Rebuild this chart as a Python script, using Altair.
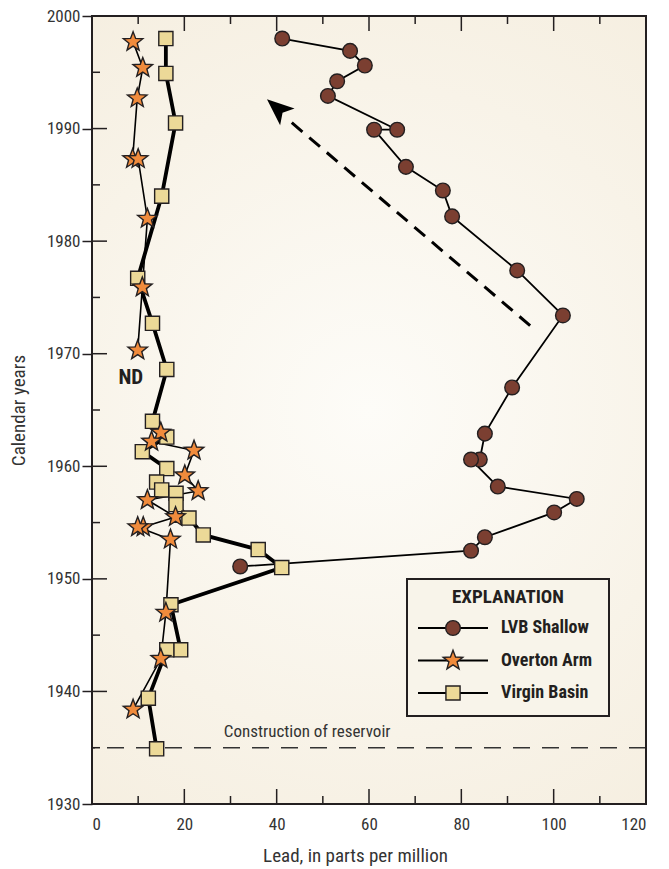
import math
import altair as alt
import pandas as pd

# ---------------- data ----------------
series_names = ["LVB Shallow", "Overton Arm", "Virgin Basin"]

lvb_lead = [41.2, 55.9, 59.1, 53.1, 51.1, 66.1, 61.1, 68.0, 76.0, 78.0, 92.1, 102.0,
            91.0, 85.1, 84.0, 82.1, 87.9, 105.0, 100.1, 85.1, 82.1, 32.1]
lvb_year = [1998.0, 1996.9, 1995.6, 1994.2, 1992.9, 1989.9, 1989.9, 1986.6, 1984.5, 1982.2, 1977.4, 1973.4,
            1967.0, 1962.9, 1960.6, 1960.6, 1958.2, 1957.1, 1955.9, 1953.7, 1952.5, 1951.1]

overton_a_lead = [8.9, 11.0, 9.8, 8.8, 10.0, 12.0, 10.9, 9.9]
overton_a_year = [1997.7, 1995.4, 1992.7, 1987.3, 1987.3, 1982.0, 1975.9, 1970.3]
overton_b_lead = [14.9, 12.9, 22.1, 20.1, 23.0, 12.0, 18.1, 11.1, 9.9, 17.0, 16.0, 14.9, 8.9]
overton_b_year = [1963.0, 1962.2, 1961.4, 1959.2, 1957.8, 1957.0, 1955.5, 1954.6, 1954.6, 1953.5,
                  1947.0, 1942.9, 1938.4]

virgin_lead = [16.0, 16.0, 18.1, 15.1, 9.9, 13.1, 16.2, 13.1, 16.2, 10.9, 16.2, 14.0, 15.1, 18.2,
               18.2, 21.0, 24.1, 36.0, 41.1, 17.1, 19.2, 16.2, 12.2, 14.0]
virgin_year = [1998.0, 1994.9, 1990.5, 1984.0, 1976.7, 1972.7, 1968.6, 1964.0, 1962.6, 1961.3,
               1959.8, 1958.6, 1957.9, 1957.6, 1956.6, 1955.4, 1953.9, 1952.6, 1951.0, 1947.7,
               1943.7, 1943.7, 1939.4, 1934.9]

x_major = [0, 20, 40, 60, 80, 100, 120]
x_minor = [10, 30, 50, 70, 90, 110]
y_major = [1930, 1940, 1950, 1960, 1970, 1980, 1990, 2000]
y_minor = [1935, 1945, 1955, 1965, 1975, 1985, 1995]

reservoir_year = 1935
reservoir_label = "Construction of reservoir"
reservoir_label_pos = (46.6, 1936.4)
nd_label = "ND"
nd_pos = (8.4, 1967.8)
arrow_tail = (94.9, 1972.5)
arrow_base = (41.9, 1991.0)
arrow_tip = (37.9, 1992.6)

# ---------------- style ----------------
W, H = 554, 788
FONT = "Roboto Condensed"
INK = "#231f20"


def star_path(r_in=0.42):
    pts = []
    for k in range(10):
        r = 1.0 if k % 2 == 0 else r_in
        a = math.radians(-90 + 36 * k)
        pts.append(f"{r * math.cos(a):.3f},{r * math.sin(a):.3f}")
    return "M" + " L".join(pts) + " Z"


STAR = star_path()
fills = {"LVB Shallow": "#7b3f31", "Overton Arm": "#f08b3c", "Virgin Basin": "#ecd998"}
shapes = {"LVB Shallow": "circle", "Overton Arm": STAR, "Virgin Basin": "square"}
sizes = {"LVB Shallow": 215, "Overton Arm": 420, "Virgin Basin": 200}
line_w = {"LVB Shallow": 1.8, "Overton Arm": 1.6, "Virgin Basin": 3.8}

rows = []
for i, (l, y) in enumerate(zip(lvb_lead, lvb_year)):
    rows.append({"series": "LVB Shallow", "lead": l, "year": y, "seq": i, "seg": "L"})
for i, (l, y) in enumerate(zip(overton_a_lead, overton_a_year)):
    rows.append({"series": "Overton Arm", "lead": l, "year": y, "seq": i, "seg": "OA"})
for i, (l, y) in enumerate(zip(overton_b_lead, overton_b_year)):
    rows.append({"series": "Overton Arm", "lead": l, "year": y, "seq": 100 + i, "seg": "OB"})
for i, (l, y) in enumerate(zip(virgin_lead, virgin_year)):
    rows.append({"series": "Virgin Basin", "lead": l, "year": y, "seq": i, "seg": "V"})
df = pd.DataFrame(rows)

xscale = alt.Scale(domain=[0, 120], nice=False, zero=False)
yscale = alt.Scale(domain=[1930, 2000], nice=False, zero=False)

xaxis = alt.Axis(values=x_major, ticks=False, domain=False, grid=False,
                 labelFont=FONT, labelFontSize=17, labelColor="#333333", labelPadding=12,
                 title="Lead, in parts per million", titleFont=FONT, titleFontSize=19,
                 titleFontWeight="normal", titleColor="#333333",
                 titleX=263, titleY=57, titleAnchor="middle", titleBaseline="alphabetic")
yaxis = alt.Axis(values=y_major, format="d", tickSize=10, tickWidth=1.5, tickColor=INK,
                 domain=False, grid=False,
                 labelFont=FONT, labelFontSize=17, labelColor="#333333", labelPadding=2,
                 title="Calendar years", titleFont=FONT, titleFontSize=19,
                 titleFontWeight="normal", titleColor="#333333",
                 titleX=-74, titleY=394, titleAnchor="middle", titleBaseline="middle", titleAngle=-90)


def X(field):
    return alt.X(f"{field}:Q", scale=xscale, axis=xaxis)


def Y(field):
    return alt.Y(f"{field}:Q", scale=yscale, axis=yaxis)


one = pd.DataFrame({"k": [0]})

bg = alt.Chart(one).mark_rect(
    color=alt.RadialGradient(
        gradient="radial", x1=0.5, y1=0.5, x2=0.5, y2=0.5, r1=0, r2=0.75,
        stops=[alt.GradientStop(color="#fdfcf8", offset=0),
               alt.GradientStop(color="#f8f3e8", offset=0.55),
               alt.GradientStop(color="#f4ecdc", offset=1)])
).encode(x=alt.value(0), x2=alt.value(W), y=alt.value(0), y2=alt.value(H))

res = alt.Chart(pd.DataFrame({"year": [reservoir_year]})).mark_rule(
    color="#333333", strokeWidth=1.6, strokeDash=[17, 12]
).encode(y=Y("year"))

res_text = alt.Chart(pd.DataFrame({"lead": [reservoir_label_pos[0]], "year": [reservoir_label_pos[1]],
                                   "t": [reservoir_label]})).mark_text(
    font=FONT, fontSize=17, color="#333333", align="center", baseline="middle"
).encode(x=X("lead"), y=Y("year"), text="t:N")

nd_text = alt.Chart(pd.DataFrame({"lead": [nd_pos[0]], "year": [nd_pos[1]], "t": [nd_label]})).mark_text(
    font=FONT, fontSize=21, fontWeight="bold", color=INK, align="center", baseline="middle"
).encode(x=X("lead"), y=Y("year"), text="t:N")

arrow_line = alt.Chart(pd.DataFrame({"lead": [arrow_tail[0]], "year": [arrow_tail[1]],
                                     "lead2": [arrow_base[0]], "year2": [arrow_base[1]]})).mark_rule(
    color="black", strokeWidth=3, strokeDash=[14, 9]
).encode(x=X("lead"), y=Y("year"), x2="lead2:Q", y2="year2:Q")

px_x = W / 120.0
px_y = H / 70.0
dx = (arrow_tip[0] - arrow_tail[0]) * px_x
dy = -(arrow_tip[1] - arrow_tail[1]) * px_y
ang = math.degrees(math.atan2(dx, -dy)) % 360
arrow_head = alt.Chart(pd.DataFrame({"lead": [arrow_tip[0]], "year": [arrow_tip[1]]})).mark_point(
    shape="M0,0 L0.7,1.7 L0,1.3 L-0.7,1.7 Z", size=1000, filled=True, color="black",
    opacity=1, angle=ang
).encode(x=X("lead"), y=Y("year"))

line_layers = []
for s in ["Virgin Basin", "Overton Arm", "LVB Shallow"]:
    line_layers.append(
        alt.Chart(df).transform_filter(alt.datum.series == s).mark_line(
            color="black", strokeWidth=line_w[s]
        ).encode(x=X("lead"), y=Y("year"), detail="seg:N", order="seq:Q")
    )

point_layers = []
for s in ["Virgin Basin", "Overton Arm", "LVB Shallow"]:
    point_layers.append(
        alt.Chart(df).transform_filter(alt.datum.series == s).mark_point(
            shape=shapes[s], size=sizes[s], filled=True, fill=fills[s], stroke=INK,
            strokeWidth=1.4, opacity=1
        ).encode(x=X("lead"), y=Y("year"))
    )


def tick_layer(vals, axis, y0, y1):
    d = pd.DataFrame({"v": vals})
    if axis == "x":
        return alt.Chart(d).mark_rule(color=INK, strokeWidth=1.5).encode(
            x=X("v"), y=alt.value(y0), y2=alt.value(y1))
    return alt.Chart(d).mark_rule(color=INK, strokeWidth=1.5).encode(
        y=Y("v"), x=alt.value(y0), x2=alt.value(y1))


ticks = [
    tick_layer(x_major, "x", H, H - 15), tick_layer(x_minor, "x", H, H - 8),
    tick_layer(x_major, "x", 0, 15), tick_layer(x_minor, "x", 0, 8),
    tick_layer(y_major, "y", 0, 15), tick_layer(y_minor, "y", 0, 8),
]

frame = alt.Chart(one).mark_rect(fillOpacity=0, stroke=INK, strokeWidth=2).encode(
    x=alt.value(0), x2=alt.value(W), y=alt.value(0), y2=alt.value(H))

LX0, LX1, LY0, LY1 = 315, 517, 563, 700
leg = [
    alt.Chart(one).mark_rect(fill="#f8f4ea", stroke=INK, strokeWidth=2).encode(
        x=alt.value(LX0), x2=alt.value(LX1), y=alt.value(LY0), y2=alt.value(LY1)),
    alt.Chart(pd.DataFrame({"t": ["EXPLANATION"]})).mark_text(
        font=FONT, fontSize=19, fontWeight="bold", color=INK, align="center", baseline="middle"
    ).encode(x=alt.value(416), y=alt.value(581), text="t:N"),
]
for i, s in enumerate(series_names):
    ry = 612 + 32.5 * i
    d = pd.DataFrame({"series": [s]})
    leg.append(alt.Chart(d).mark_rule(color="black", strokeWidth=1.8).encode(
        x=alt.value(326), x2=alt.value(396), y=alt.value(ry)))
    leg.append(alt.Chart(d).mark_point(
        shape=shapes[s], size=sizes[s], filled=True, fill=fills[s], stroke=INK,
        strokeWidth=1.4, opacity=1).encode(x=alt.value(361), y=alt.value(ry)))
    leg.append(alt.Chart(d).mark_text(
        font=FONT, fontSize=18, fontWeight="bold", color=INK, align="left", baseline="middle"
    ).encode(x=alt.value(409), y=alt.value(ry), text="series:N"))

chart = alt.layer(
    bg, res, *line_layers, arrow_line, arrow_head, *point_layers, res_text, nd_text,
    *ticks, frame, *leg
).properties(
    width=W, height=H,
    autosize=alt.AutoSizeParams(type="none"),
    padding={"left": 84, "top": 8, "right": 15, "bottom": 64},
    background="white",
).configure_view(stroke=None)

chart.save("out.html", embed_options={"renderer": "svg", "actions": False})
